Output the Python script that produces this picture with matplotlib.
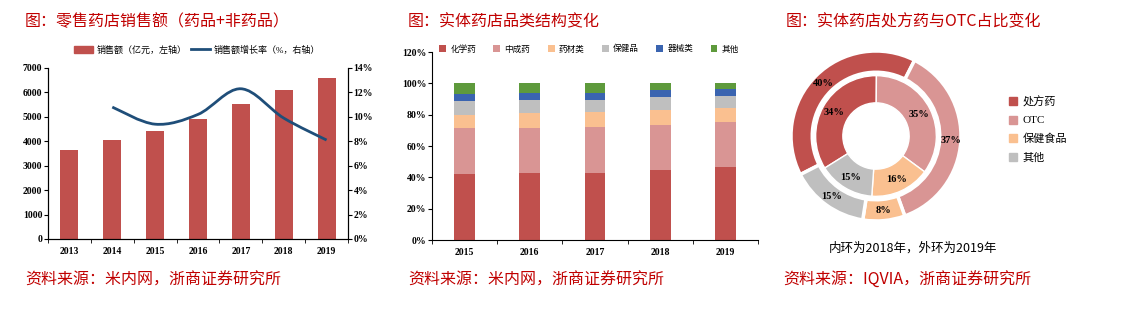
import numpy as np
import matplotlib
matplotlib.use("Agg")
import matplotlib.pyplot as plt
from matplotlib.path import Path
from matplotlib.patches import PathPatch, Patch
from matplotlib.lines import Line2D

plt.rcParams['font.family'] = ['Liberation Serif', 'Noto Sans CJK SC']

# ---- data ----
years_sales = ["2013", "2014", "2015", "2016", "2017", "2018", "2019"]
sales = [3650, 4050, 4440, 4930, 5530, 6090, 6610]          # 亿元
growth = [10.8, 9.4, 10.2, 12.3, 9.9, 8.1]                  # %, 2014-2019

years_mix = ["2015", "2016", "2017", "2018", "2019"]
mix_names = ["化学药", "中成药", "药材类", "保健品", "器械类", "其他"]
chem = [42.4, 42.9, 42.9, 44.6, 46.9]
tcm = [28.8, 28.7, 29.0, 28.7, 28.6]
herbs = [8.8, 9.4, 9.5, 9.6, 8.9]
health = [8.7, 8.3, 7.7, 8.1, 7.3]
device = [4.7, 4.7, 4.9, 4.5, 4.7]
other = [6.6, 6.0, 6.0, 4.5, 3.6]

rx_names = ["处方药", "OTC", "保健食品", "其他"]
rx_2018 = [34, 35, 16, 15]
rx_2019 = [40, 37, 8, 15]

RED = "#C0504D"
TITLE_RED = "#C00000"
mix_colors = ["#C0504D", "#D99594", "#FAC090", "#BFBFBF", "#3A64B0", "#5E9A3C"]
rx_colors = ["#C0504D", "#D99594", "#FAC090", "#BFBFBF"]

W, H = 1147, 332
fig = plt.figure(figsize=(W / 100, H / 100), dpi=100)


def fx(px):
    return px / W


def fy(py):
    return 1 - py / H


cjk = ['Noto Sans CJK SC', 'DejaVu Sans']
mixed = ['Liberation Serif', 'Noto Sans CJK SC']
tick_font = dict(family='Liberation Serif', weight='bold', size=7)

# titles and sources
titles = ["图：零售药店销售额（药品+非药品）", "图：实体药店品类结构变化", "图：实体药店处方药与OTC占比变化"]
sources = ["资料来源：米内网，浙商证券研究所", "资料来源：米内网，浙商证券研究所", "资料来源：IQVIA，浙商证券研究所"]
for x, t in zip([25, 408, 786], titles):
    fig.text(fx(x), fy(22), t, color=TITLE_RED, fontsize=11.5, family=cjk, va='center')
for x, t in zip([25, 408, 783], sources):
    fig.text(fx(x), fy(280), t, color=TITLE_RED, fontsize=11.5, family=cjk, va='center')

# ---- panel 1: sales bars + growth line ----
ax1 = fig.add_axes([fx(48), fy(239), fx(348 - 48), (239 - 68) / H])
x1 = np.arange(len(years_sales))
ax1.bar(x1, sales, width=0.42, color=RED, zorder=2)
ax1.set_xlim(-0.5, len(years_sales) - 0.5)
ax1.set_ylim(0, 7000)
ax1.set_yticks(range(0, 7001, 1000))
ax1.set_xticks(x1)
ax1.set_xticklabels(years_sales)
ax1.set_xticks(np.arange(-0.5, len(years_sales), 1), minor=True)
ax1.tick_params(axis='x', which='major', length=0, pad=6)
ax1.tick_params(axis='x', which='minor', length=3, direction='out')
ax1.tick_params(axis='y', length=3, direction='out', pad=1)
for lab in ax1.get_xticklabels() + ax1.get_yticklabels():
    lab.set(**tick_font)
ax1.spines['top'].set_visible(False)

ax1b = ax1.twinx()
ax1b.set_ylim(0, 14)
ax1b.set_yticks(range(0, 15, 2))
ax1b.set_yticklabels([f"{v}%" for v in range(0, 15, 2)])
ax1b.tick_params(axis='y', length=3, direction='out', pad=1)
for lab in ax1b.get_yticklabels():
    lab.set(**tick_font)
ax1b.spines['top'].set_visible(False)

# smoothed line (bezier through points, like the Excel smooth line)
gx = x1[1:].astype(float)
pts = np.column_stack([gx, growth])
verts = [tuple(pts[0])]
codes = [Path.MOVETO]
n = len(pts)
for i in range(n - 1):
    p0 = pts[i - 1] if i > 0 else pts[i]
    p1, p2 = pts[i], pts[i + 1]
    p3 = pts[i + 2] if i + 2 < n else pts[i + 1]
    c1 = p1 + (p2 - p0) / 6
    c2 = p2 - (p3 - p1) / 6
    verts += [tuple(c1), tuple(c2), tuple(p2)]
    codes += [Path.CURVE4] * 3
ax1b.add_patch(PathPatch(Path(verts, codes), fill=False, edgecolor="#1F4E79", lw=2, zorder=3))

h1 = [Patch(color=RED), Line2D([], [], color="#1F4E79", lw=2)]
ax1.legend(h1, ["销售额（亿元，左轴）", "销售额增长率（%，右轴）"], ncol=2, frameon=False,
           loc='center', bbox_to_anchor=(fx(197), fy(50)), bbox_transform=fig.transFigure,
           prop=dict(family=mixed, size=6.5),
           handlelength=2.2, handleheight=0.7, columnspacing=0.4, handletextpad=0.4)

# ---- panel 2: stacked category mix ----
ax2 = fig.add_axes([fx(432), fy(240), fx(758 - 432), (240 - 52) / H])
x2 = np.arange(len(years_mix))
bottom = np.zeros(len(years_mix))
for name, vals, col in zip(mix_names, [chem, tcm, herbs, health, device, other], mix_colors):
    ax2.bar(x2, vals, bottom=bottom, width=0.32, color=col, label=name)
    bottom += np.array(vals)
ax2.set_xlim(-0.5, len(years_mix) - 0.5)
ax2.set_ylim(0, 120)
ax2.set_yticks(range(0, 121, 20))
ax2.set_yticklabels([f"{v}%" for v in range(0, 121, 20)])
ax2.set_xticks(x2)
ax2.set_xticklabels(years_mix)
ax2.set_xticks(np.arange(-0.5, len(years_mix), 1), minor=True)
ax2.tick_params(axis='x', which='major', length=0, pad=6)
ax2.tick_params(axis='x', which='minor', length=3, direction='out')
ax2.tick_params(axis='y', length=3, direction='out', pad=1)
for lab in ax2.get_xticklabels() + ax2.get_yticklabels():
    lab.set(**tick_font)
ax2.spines['top'].set_visible(False)
ax2.spines['right'].set_visible(False)
ax2.legend(ncol=6, frameon=False, loc='center', bbox_to_anchor=(fx(589), fy(49)),
           bbox_transform=fig.transFigure, prop=dict(family=cjk, size=6.2),
           handlelength=0.8, handleheight=0.8, columnspacing=2.0, handletextpad=0.5)

# ---- panel 3: donut ----
cx, cy, r = 876, 136, 85
ax3 = fig.add_axes([fx(cx - r), fy(cy + r), fx(2 * r), 2 * r / H])
ax3.pie(rx_2019, radius=1.0, colors=rx_colors, startangle=90 - 243, counterclock=False,
        wedgeprops=dict(width=0.25, edgecolor='white', linewidth=2.5))
ax3.pie(rx_2018, radius=0.71, colors=rx_colors, startangle=90 - 238, counterclock=False,
        wedgeprops=dict(width=0.32, edgecolor='white', linewidth=1))
for vals, start, rad in [(rx_2019, 243, 0.88), (rx_2018, 238, 0.57)]:
    a = start
    for v in vals:
        mid = np.deg2rad(a + v * 3.6 / 2)
        ax3.text(rad * np.sin(mid), rad * np.cos(mid), f"{v}%", ha='center', va='center',
                 family='Liberation Serif', weight='bold', size=7.5)
        a += v * 3.6
ax3.set_xlim(-1, 1)
ax3.set_ylim(-1, 1)
ax3.set_aspect('equal')
ax3.axis('off')

h3 = [Patch(color=c) for c in rx_colors]
ax3.legend(h3, rx_names, frameon=False, loc='upper left', bbox_to_anchor=(fx(999), fy(86)),
           bbox_transform=fig.transFigure, prop=dict(family=mixed, size=8),
           handlelength=0.75, handleheight=0.75, handletextpad=0.5, labelspacing=0.75)
fig.text(fx(913), fy(248), "内环为2018年，外环为2019年", ha='center', va='center',
         family=cjk, size=9)

fig.savefig("out.png", dpi=100)
